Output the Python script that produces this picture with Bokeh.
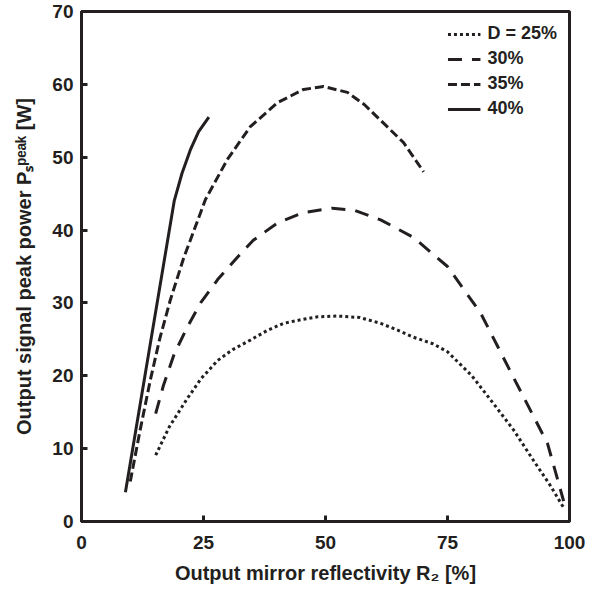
import numpy as np
from bokeh.plotting import figure
from bokeh.models import Range1d, Legend, LegendItem, FixedTicker
from bokeh.embed import file_html
from bokeh.resources import INLINE

# ---- data ----
r_25 = [15.2, 18.0, 21.7, 24.5, 27.9, 31.0, 34.6, 38.0, 41.4, 45.0, 48.4, 52.5, 57.0, 61.3, 65.0, 68.0, 72.0, 75.0, 80.0, 84.4, 88.5, 92.6, 96.0, 98.8]
p_25 = [9.1, 13.0, 16.9, 19.6, 22.1, 23.6, 24.9, 26.2, 27.2, 27.7, 28.1, 28.2, 28.0, 27.2, 26.2, 25.3, 24.4, 23.3, 20.0, 16.2, 12.6, 8.4, 5.0, 1.9]

r_30 = [15.2, 16.8, 19.0, 21.7, 24.4, 27.9, 32.0, 35.2, 40.2, 45.5, 51.4, 56.0, 61.3, 68.0, 75.0, 81.8, 88.5, 95.5, 98.8]
p_30 = [14.8, 18.7, 23.0, 26.7, 30.0, 33.2, 36.3, 38.6, 41.0, 42.4, 43.0, 42.7, 41.4, 39.0, 35.0, 28.6, 19.8, 10.7, 2.8]

r_35 = [10.0, 12.0, 14.1, 16.0, 18.2, 21.0, 22.3, 25.4, 29.9, 34.6, 40.2, 45.5, 49.6, 54.5, 58.0, 62.0, 66.0, 70.1]
p_35 = [5.5, 12.5, 19.4, 25.0, 30.4, 36.3, 38.6, 44.2, 49.7, 54.2, 57.5, 59.3, 59.7, 58.9, 57.2, 54.6, 52.0, 48.0]

r_40 = [9.0, 11.0, 13.0, 15.0, 17.0, 19.0, 20.6, 22.3, 24.0, 26.1]
p_40 = [4.0, 12.0, 20.0, 28.0, 36.0, 44.0, 47.8, 51.0, 53.5, 55.5]

series_labels = ["D = 25%", "30%", "35%", "40%"]
x_ticks = [0, 25, 50, 75, 100]
y_ticks = [0, 10, 20, 30, 40, 50, 60, 70]
x_title = "Output mirror reflectivity R\u2082 [%]"
y_title = "Output signal peak power P\u209b\u1d56\u1d49\u1d43\u1d4f [W]"

INK = "#231f20"
FONT = "Liberation Sans"

W, H = 600, 592
p = figure(width=W, height=H, output_backend="svg", toolbar_location=None,
           x_range=Range1d(0, 100), y_range=Range1d(0, 70),
           min_border_left=81, min_border_right=W - 569, min_border_top=11,
           min_border_bottom=H - 521)
p.xgrid.visible = False
p.ygrid.visible = False
p.outline_line_color = INK
p.outline_line_width = 3

p.xaxis.ticker = FixedTicker(ticks=x_ticks)
p.yaxis.ticker = FixedTicker(ticks=y_ticks)
p.xaxis.axis_label = x_title
p.yaxis.axis_label = y_title
for ax in [p.xaxis[0], p.yaxis[0]]:
    ax.axis_line_width = 3
    ax.axis_line_color = INK
    ax.major_tick_line_width = 3
    ax.major_tick_line_color = INK
    ax.major_tick_in = 6
    ax.major_tick_out = 0
    ax.minor_tick_line_color = None
    ax.major_label_text_font = FONT
    ax.major_label_text_font_style = "bold"
    ax.major_label_text_font_size = "19px"
    ax.major_label_text_color = INK
    ax.axis_label_text_font = FONT
    ax.axis_label_text_font_style = "bold"
    ax.axis_label_text_font_size = "20px"
    ax.axis_label_text_color = INK
p.xaxis.major_label_standoff = 14
p.yaxis.major_label_standoff = 8
p.xaxis.axis_label_standoff = 10
p.yaxis.axis_label_standoff = 14

r1 = p.line(r_25, p_25, line_color=INK, line_width=3, line_dash="3 3")
r2 = p.line(r_30, p_30, line_color=INK, line_width=3, line_dash="14 10")
r3 = p.line(r_35, p_35, line_color=INK, line_width=3, line_dash="9 4")
r4 = p.line(r_40, p_40, line_color=INK, line_width=3)

legend = Legend(items=[LegendItem(label=series_labels[i], renderers=[r])
                       for i, r in enumerate([r1, r2, r3, r4])],
                location="top_right", glyph_width=33, glyph_height=20, label_standoff=7,
                spacing=4, padding=4, margin=12, border_line_color=None, background_fill_alpha=0,
                label_text_font=FONT, label_text_font_style="bold", label_text_font_size="18px",
                label_text_color=INK)
p.add_layout(legend, "center")

open("out.html", "w").write(file_html(p, INLINE))
